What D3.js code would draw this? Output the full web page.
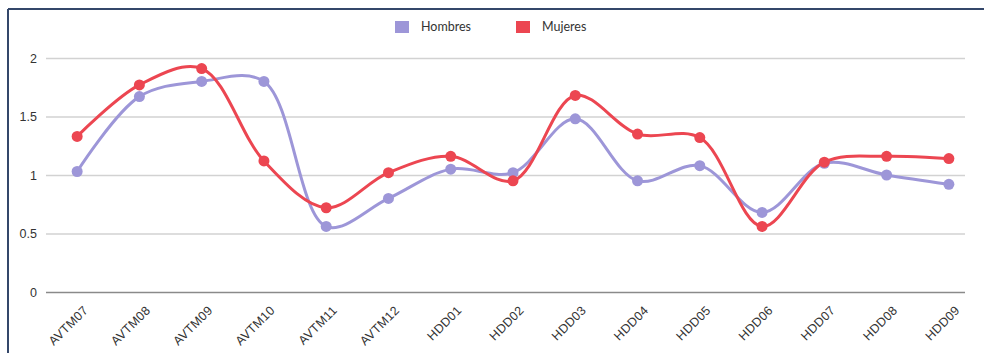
<!DOCTYPE html>
<html>
<head>
<meta charset="utf-8">
<script src="https://cdn.jsdelivr.net/npm/d3@7"></script>
<style>
  body { margin: 0; background: #fff; }
  svg { display: block; font-family: Lato, "Open Sans", sans-serif; }
  .chart_label { fill: #333; font-size: 12.5px; }
  .x_label { letter-spacing: 0.3px; }
</style>
</head>
<body>
<svg id="chart" width="984" height="353"></svg>
<script>
var categories = ["AVTM07", "AVTM08", "AVTM09", "AVTM10", "AVTM11", "AVTM12", "HDD01", "HDD02",
                  "HDD03", "HDD04", "HDD05", "HDD06", "HDD07", "HDD08", "HDD09"];
var hombres = [1.03, 1.67, 1.80, 1.80, 0.56, 0.80, 1.05, 1.02, 1.48, 0.95, 1.08, 0.68, 1.10, 1.00, 0.92];
var mujeres = [1.33, 1.77, 1.91, 1.12, 0.72, 1.02, 1.16, 0.95, 1.68, 1.35, 1.32, 0.56, 1.11, 1.16, 1.14];
var yTicks = [0, 0.5, 1, 1.5, 2];
var seriesNames = ["Hombres", "Mujeres"];
var seriesColors = ["#9d96d8", "#ec4651"];

var svg = d3.select("#chart"),
    margin = {top: 58, right: 4, bottom: 61, left: 46},
    width = 984 - margin.left - margin.right,
    height = 353 - margin.top - margin.bottom;

// frame
svg.append("line").attr("x1", 8).attr("x2", 984).attr("y1", 9).attr("y2", 9)
  .attr("stroke", "#34476a").attr("stroke-width", 2);
svg.append("line").attr("x1", 8).attr("x2", 8).attr("y1", 9).attr("y2", 353)
  .attr("stroke", "#34476a").attr("stroke-width", 2);

var g = svg.append("g").attr("transform", "translate(" + margin.left + "," + margin.top + ")");

var x = d3.scalePoint()
  .domain(categories)
  .range([0, width])
  .padding(0.5);

var y = d3.scaleLinear()
  .domain([0, 2])
  .range([height, 0]);

// grid + y labels
var yAxis = g.append("g")
  .call(d3.axisRight(y).tickValues(yTicks).tickFormat(d3.format("")).tickSize(width - 15));
yAxis.select(".domain").remove();
yAxis.selectAll(".tick line").attr("stroke", "#d2d2d2").attr("stroke-width", 1.5);
yAxis.selectAll(".tick:first-of-type line").attr("stroke", "#8a8a8a");
yAxis.selectAll(".tick text")
  .attr("class", "chart_label")
  .attr("x", -9)
  .attr("text-anchor", "end")
  .attr("dy", "0.32em");

// x labels
var xAxis = g.append("g")
  .attr("transform", "translate(0," + height + ")")
  .call(d3.axisBottom(x).tickSize(0));
xAxis.select(".domain").remove();
xAxis.selectAll(".tick text")
  .attr("class", "chart_label x_label")
  .attr("text-anchor", "end")
  .attr("dy", 0)
  .attr("transform", "translate(9,17) rotate(-45)");

var series = [hombres, mujeres];

var line = d3.line()
  .x(function(d, i) { return x(categories[i]) })
  .y(function(d) { return y(d) })
  .curve(d3.curveCatmullRom.alpha(0.5));

series.forEach(function(values, s) {
  g.append("path")
    .attr("fill", "none")
    .attr("stroke", seriesColors[s])
    .attr("stroke-width", 3)
    .attr("d", line(values));
  g.selectAll(".dot-" + s)
    .data(values)
    .enter().append("circle")
      .attr("class", "dot-" + s)
      .attr("cx", function(d, i) { return x(categories[i]) })
      .attr("cy", function(d) { return y(d) })
      .attr("r", 5.5)
      .attr("fill", seriesColors[s]);
});

// legend
var legend = svg.append("g").attr("transform", "translate(395,21)");
var legX = [0, 121];
seriesNames.forEach(function(name, s) {
  var item = legend.append("g").attr("transform", "translate(" + legX[s] + ",0)");
  item.append("rect").attr("width", 14).attr("height", 12).attr("fill", seriesColors[s]);
  item.append("text")
    .attr("class", "chart_label")
    .attr("x", 26).attr("y", 6).attr("dy", "0.35em")
    .text(name);
});
</script>
</body>
</html>
